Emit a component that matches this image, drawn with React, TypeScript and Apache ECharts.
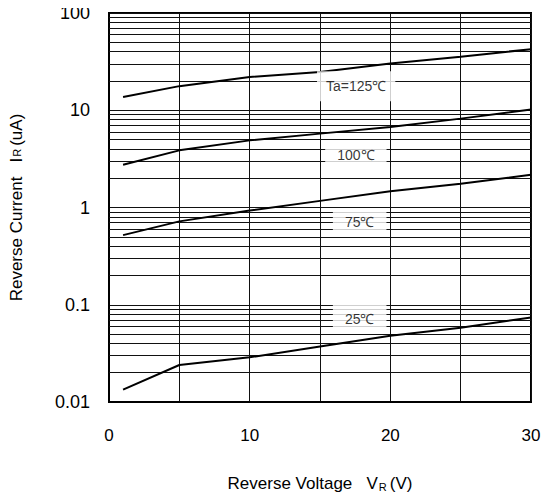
import React, { useEffect, useRef } from "react";
import * as echarts from "echarts";

const voltages = [1, 5, 10, 15, 20, 25, 30];
const ta125 = [13.7, 17.7, 22.0, 24.8, 30.3, 35.5, 42.5];
const ta100 = [2.75, 3.87, 4.9, 5.75, 6.73, 8.2, 10.2];
const ta75 = [0.52, 0.72, 0.93, 1.17, 1.47, 1.75, 2.17];
const ta25 = [0.0134, 0.024, 0.0288, 0.0372, 0.048, 0.058, 0.074];

const curveLabels = ["Ta=125℃", "100℃", "75℃", "25℃"];
const labelPositions: [number, number][] = [
  [17.57, 17.7],
  [17.55, 3.46],
  [17.82, 0.71],
  [17.82, 0.0716],
];

const decades = [0.01, 0.1, 1, 10];
const minorSteps = [2, 3, 4, 5, 6, 7, 8, 9];
const minorValues: number[] = [];
decades.forEach((d) => minorSteps.forEach((m) => minorValues.push(+(d * m).toPrecision(3))));

const FONT = "'Liberation Sans', Arial, sans-serif";

export default function App() {
  const ref = useRef<HTMLDivElement>(null);
  useEffect(() => {
    if (!ref.current) return;
    const chart = echarts.init(ref.current, undefined, { renderer: "svg" });
    const curves = [ta125, ta100, ta75, ta25];
    chart.setOption({
      animation: false,
      backgroundColor: "#fff",
      textStyle: { fontFamily: FONT },
      grid: {
        left: 105,
        right: 23,
        top: 13,
        bottom: 98,
        show: true,
        borderColor: "#000",
        borderWidth: 2,
      },
      xAxis: {
        type: "value",
        min: 0,
        max: 30,
        interval: 5,
        axisLine: { show: true, lineStyle: { color: "#000", width: 2 } },
        axisTick: { show: false },
        splitLine: { show: true, lineStyle: { color: "#111", width: 1 } },
        axisLabel: {
          color: "#000",
          fontSize: 17,
          fontFamily: FONT,
          margin: 25,
          formatter: (v: number) => (v % 10 === 0 ? String(v) : ""),
        },
        name: "Reverse Voltage   V{sub|R}(V)",
        nameLocation: "middle",
        nameGap: 72,
        nameTextStyle: {
          color: "#000",
          fontSize: 17,
          fontFamily: FONT,
          rich: {
            sub: { fontSize: 11, verticalAlign: "bottom", padding: [7, 3, 0, 1], color: "#000", fontFamily: FONT },
          },
        },
      },
      yAxis: {
        type: "log",
        logBase: 10,
        min: 0.01,
        max: 100,
        axisLine: { show: true, lineStyle: { color: "#000", width: 2 } },
        axisTick: { show: false },
        splitLine: { show: true, lineStyle: { color: "#111", width: 1 } },
        axisLabel: {
          color: "#000",
          fontSize: 18,
          fontFamily: FONT,
          margin: 19,
          formatter: (v: number) => String(+v.toPrecision(3)),
        },
        name: "Reverse Current   I{sub|R}(uA)",
        nameLocation: "middle",
        nameRotate: 90,
        nameGap: 84,
        nameTextStyle: {
          color: "#000",
          fontSize: 17,
          fontFamily: FONT,
          rich: {
            sub: { fontSize: 11, padding: [0, 3, 0, 1], color: "#000", fontFamily: FONT },
          },
        },
      },
      series: [
        {
          type: "line",
          data: [],
          silent: true,
          z: 1,
          markLine: {
            silent: true,
            symbol: "none",
            animation: false,
            label: { show: false },
            lineStyle: { color: "#111", width: 1, type: "solid" },
            emphasis: { disabled: true },
            data: minorValues.map((v) => ({ yAxis: v })),
          },
        },
        ...curves.map((c) => ({
          type: "line",
          data: voltages.map((v, i) => [v, c[i]]),
          symbol: "none",
          z: 5,
          lineStyle: { color: "#000", width: 2 },
          silent: true,
        })),
        {
          type: "scatter",
          z: 10,
          symbolSize: 0,
          silent: true,
          data: labelPositions.map((p, i) => ({
            value: p,
            label: {
              show: true,
              position: "inside",
              formatter: curveLabels[i],
              color: "#000",
              fontSize: 14,
              fontFamily: FONT,
              backgroundColor: "#fff",
              padding: i === 0 ? [8, 9] : [7, 12],
            },
          })),
        },
      ],
    });
    return () => chart.dispose();
  }, []);
  return <div ref={ref} style={{ width: 554, height: 500, margin: -8 }} />;
}
